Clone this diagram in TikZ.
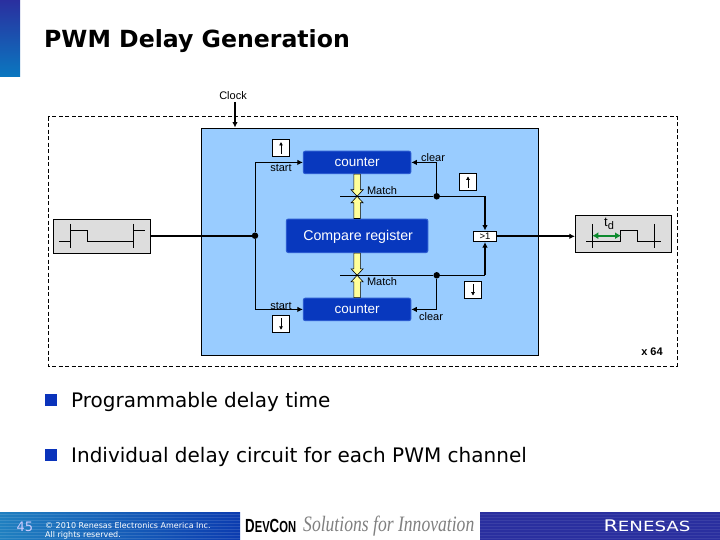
\documentclass[tikz,border=0pt]{standalone}
\usepackage{fontspec}
\setmainfont{Liberation Sans}
\newfontfamily\vfont{DejaVu Sans}
\newfontfamily\sfont{Liberation Serif}
\usetikzlibrary{arrows.meta,calc}
\definecolor{panelblue}{HTML}{99CCFF}
\definecolor{regblue}{HTML}{0838BE}
\definecolor{regedge}{HTML}{2A5AD0}
\definecolor{busyellow}{HTML}{FFFF99}
\definecolor{wavegray}{HTML}{DDDDDD}
\definecolor{bulletblue}{HTML}{0A33BB}
\definecolor{barnavy}{HTML}{2A2F9F}
\definecolor{barcyan}{HTML}{0A78C0}
\definecolor{barteal}{HTML}{2080C0}
\definecolor{bardeep}{HTML}{0C3CB0}
\definecolor{arrowgreen}{HTML}{0E8A2E}
\newcommand{\fs}[1]{\fontsize{#1}{#1}\selectfont}
\newcommand{\busarrow}[3]{%
  \filldraw[busline] ([xshift=-3.2pt]#1) -- ([shift={(-3.2pt,#3pt)}]#2) -- ([shift={(-6pt,#3pt)}]#2) -- (#2) -- ([shift={(6pt,#3pt)}]#2) -- ([shift={(3.2pt,#3pt)}]#2) -- ([xshift=3.2pt]#1) -- cycle;}
\tikzset{
  x=1pt,y=-1pt,
  label text/.style={inner sep=0pt,font=\fs{11}},
  regbox/.style={draw=regedge,line width=1pt,fill=regblue,rounded corners=2pt,text=white,inner sep=0pt,anchor=center},
  edgebox/.style={draw=black,line width=0.8pt,fill=white,inner sep=0pt,minimum width=17.4pt,minimum height=17pt},
  wavebox/.style={draw=black,line width=0.8pt,fill=wavegray,inner sep=0pt},
  thinline/.style={line width=0.9pt,draw=black},
  thickline/.style={line width=2pt,draw=black},
  tipped/.style={-{Latex[length=5.5pt,width=5.5pt]}},
  edgearrow/.style={line width=1pt,-{Latex[length=3.5pt,width=4pt]}},
  dot/.style={circle,fill=black,inner sep=0pt,minimum size=6.5pt},
  busline/.style={draw=black,line width=0.6pt,fill=busyellow},
  waveline/.style={line width=0.8pt,draw=black},
}
\begin{document}
\begin{tikzpicture}
\useasboundingbox (0,0) rectangle (720,540);
\fill[white] (0,0) rectangle (720,540);
% decoration
\shade[top color=barnavy,bottom color=barcyan] (0,0) rectangle (20,77);
\shade[left color=barteal,right color=bardeep] (0,512) rectangle (240,540);
\fill[barnavy] (480,512) rectangle (720,540);
\foreach \yy in {514,517,...,539} {
  \draw[white,opacity=.12,line width=.8pt] (0,\yy) -- (240,\yy);
  \draw[white,opacity=.08,line width=.8pt] (480,\yy) -- (720,\yy);
}
\node[anchor=west,inner sep=0pt,font=\vfont\bfseries\fs{23.6}] (title) at (44,41) {PWM Delay Generation};
% dashed frame and panel
\draw[dashed,line width=0.8pt,dash pattern=on 4pt off 2.5pt] (48,116.7) rectangle (677,366);
\node[draw=black,line width=0.9pt,fill=panelblue,inner sep=0pt,minimum width=336.5pt,minimum height=227pt] (panel) at (369.8,241.5) {};
% nodes
\node[label text] (clock) at (233,96) {Clock};
\coordinate (clocktop) at (235,102);
\node[wavebox,minimum width=97.4pt,minimum height=34pt] (wavein) at (102,236.3) {};
\node[wavebox,minimum width=96pt,minimum height=37pt] (waveout) at (623.3,233.8) {};
\node[regbox,minimum width=107.5pt,minimum height=22.5pt,font=\fs{13.5}] (cnta) at (357.1,162.4) {\raisebox{-4.5pt}[0pt][0pt]{counter}};
\node[regbox,minimum width=107.5pt,minimum height=22.5pt,font=\fs{13.5}] (cntb) at (357.1,309.4) {\raisebox{-4.5pt}[0pt][0pt]{counter}};
\node[regbox,minimum width=141.5pt,minimum height=33.5pt,font=\fs{14.2}] (cmp) at (357.1,235.8) {\raisebox{-5pt}[0pt][0pt]{\hspace{2pt}Compare register}};
\node[draw=black,line width=0.8pt,fill=white,inner sep=0pt,minimum width=23.4pt,minimum height=10.7pt,font=\fs{9.5}] (gate) at (485,236.3) {>1};
\node[edgebox] (ea) at (281,147.8) {};
\node[edgebox] (eb) at (468,182.2) {};
\node[edgebox] (ec) at (281,324) {};
\node[edgebox] (ed) at (473,289.8) {};
\node[label text] (starta) at (281,168) {start};
\node[label text] (startb) at (281,305.6) {start};
\node[label text] (cleara) at (433,157.6) {clear};
\node[label text] (clearb) at (431,316.3) {clear};
\node[label text] (matcha) at (382,191) {Match};
\node[label text] (matchb) at (382,282) {Match};
\node[inner sep=0pt,font=\bfseries\fs{11}] (times) at (652,352) {x 64};
% junctions
\node[dot] (jin) at (255,235.7) {};
\node[dot] (ja) at (436.7,196.3) {};
\node[dot] (jb) at (436.7,275.3) {};
\coordinate (ma) at (357.1,196.3);
\coordinate (mb) at (357.1,275.3);
\coordinate (mal) at (340,196.3);
\coordinate (mbl) at (340,275.3);
\coordinate (ca) at (485,196.3);
\coordinate (cb) at (485,275.3);
% buses
\busarrow{cnta.south}{ma}{6.5}
\busarrow{cmp.north}{ma}{-6.5}
\busarrow{cmp.south}{mb}{6.5}
\busarrow{cntb.north}{mb}{-6.5}
% connectors
\draw[thickline,tipped] (clocktop) -- (clocktop |- panel.north);
\draw[thickline] (jin -| wavein.east) -- (jin);
\draw[thinline,tipped] (jin) |- (cnta.west);
\draw[thinline,tipped] (jin) |- (cntb.west);
\draw[thinline] (mal) -- (ja);
\draw[thinline] (mbl) -- (jb);
\draw[thinline,tipped] (ja) |- (cnta.east);
\draw[thinline,tipped] (jb) |- (cntb.east);
\draw[thinline] (ja) -- (ca);
\draw[thinline] (jb) -- (cb);
\draw[thickline,tipped] (ca) -- (gate.north);
\draw[thickline,tipped] (cb) -- (gate.south);
\draw[thickline,tipped] (gate.east) -- (gate.east -| waveout.west);
% edge symbols
\draw[edgearrow] ([yshift=3pt]ea.south) -- ([yshift=-3pt]ea.north);
\draw[edgearrow] ([yshift=3pt]eb.south) -- ([yshift=-3pt]eb.north);
\draw[edgearrow] ([yshift=-3pt]ec.north) -- ([yshift=3pt]ec.south);
\draw[edgearrow] ([yshift=-3pt]ed.north) -- ([yshift=3pt]ed.south);
% waveforms
\draw[waveline] (70.7,224) -- (70.7,247.7) (133.3,224) -- (133.3,247.7);
\draw[waveline] (59.3,241.3) -- (70.7,241.3) (70.7,230.3) -- (87.7,230.3) -- (87.7,241.3) -- (133.3,241.3) (133.3,230.3) -- (145,230.3);
\draw[waveline] (592.3,224) -- (592.3,247.7) (654.3,224) -- (654.3,247.7);
\draw[waveline] (586,241.3) -- (620.7,241.3) -- (620.7,230.3) -- (637.7,230.3) -- (637.7,241.3) -- (661,241.3);
\draw[line width=2pt,draw=arrowgreen,{Latex[length=6pt,width=7pt]}-{Latex[length=6pt,width=7pt]}] (592.3,235.7) -- (621,235.7);
\node[inner sep=0pt,font=\fs{13}] (td) at (609,224) {t\raisebox{-2.5pt}{\fs{11}d}};
% bullets
\node[fill=bulletblue,minimum size=12pt,inner sep=0pt] (ba) at (51,400) {};
\node[fill=bulletblue,minimum size=12pt,inner sep=0pt] (bb) at (51,455) {};
\node[anchor=west,inner sep=0pt,font=\vfont\fs{20}] (ta) at (71,402) {Programmable delay time};
\node[anchor=west,inner sep=0pt,font=\vfont\fs{20}] (tb) at (71,457) {Individual delay circuit for each PWM channel};
% footer
\node[inner sep=0pt,text=white!80!blue,font=\vfont\fs{13}] (page) at (25,527) {45};
\node[anchor=west,inner sep=0pt,text=white,font=\vfont\fs{8}] (copya) at (45,526) {© 2010 Renesas Electronics America Inc.};
\node[anchor=west,inner sep=0pt,text=white,font=\vfont\fs{8}] (copyb) at (45,535) {All rights reserved.};
\node[anchor=west,inner sep=0pt,font=\bfseries] (dev) at (245,526) {\scalebox{.7}[1]{\fs{19}D\fs{16}EV\fs{19}C\fs{16}ON}};
\node[anchor=west,inner sep=0pt,text=black!50] (sol) at (303,526) {\scalebox{.8}[1]{\sfont\itshape\fs{22}Solutions for Innovation}};
\node[inner sep=0pt,text=white] (ren) at (647,526) {\scalebox{1.3}[1]{\vfont\fs{16}R\fs{14}ENESAS}};
\end{tikzpicture}
\end{document}
